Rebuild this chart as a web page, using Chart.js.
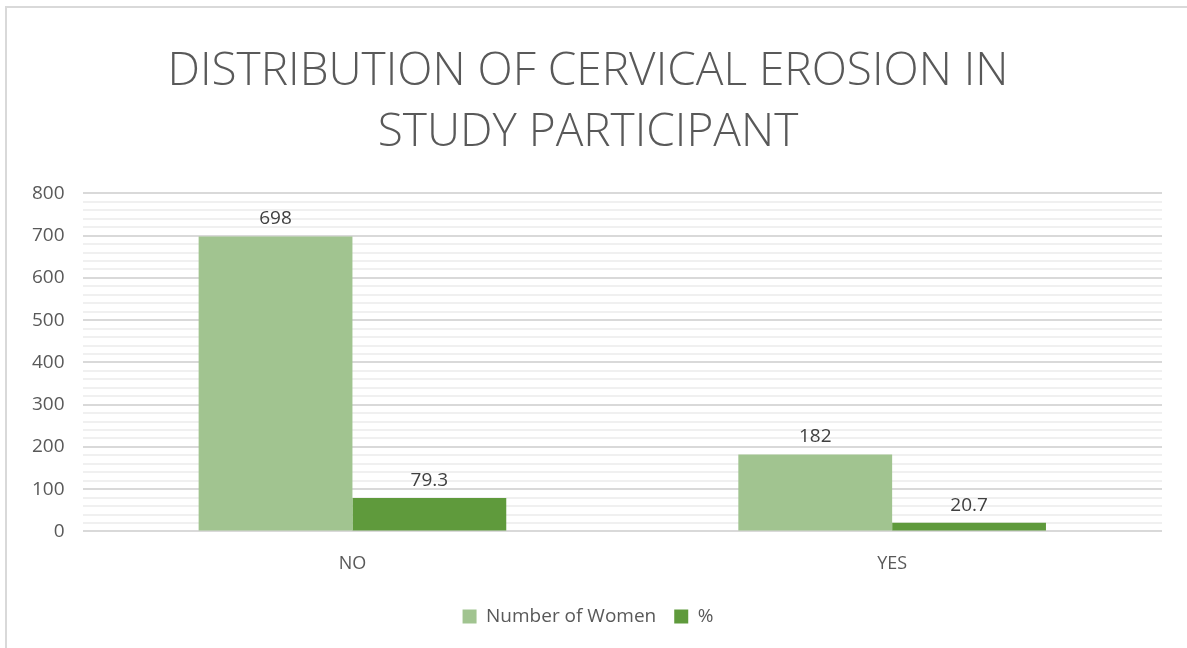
<!DOCTYPE html>
<html>
<head>
<meta charset="utf-8">
<script src="https://cdn.jsdelivr.net/npm/chart.js@4"></script>
<style>
  body { margin: 0; background: #fff; }
  #wrap { position: relative; width: 1187px; height: 648px; }
  #frame { position: absolute; left: 5px; top: 6px; right: -10px; bottom: -10px; border-left: 2px solid #d9d9d9; border-top: 2px solid #d9d9d9; pointer-events: none; }
</style>
</head>
<body>
<div id="wrap">
  <canvas id="myChart" width="1187" height="648"></canvas>
  <div id="frame"></div>
</div>
<script>
var categories = ['NO', 'YES'];
var womenCount = [698, 182];
var womenPercent = [79.3, 20.7];
var seriesNames = ['Number of Women', '%'];
var titleLines = ['DISTRIBUTION OF CERVICAL EROSION IN', 'STUDY PARTICIPANT'];

var ctx = document.getElementById('myChart');

// simple value labels above each bar
var barLabels = {
  id: 'barLabels',
  afterDatasetsDraw: function (chart) {
    var c = chart.ctx;
    c.save();
    c.font = '19px "Open Sans", sans-serif';
    c.fillStyle = '#404040';
    c.textAlign = 'center';
    c.textBaseline = 'bottom';
    chart.data.datasets.forEach(function (ds, i) {
      chart.getDatasetMeta(i).data.forEach(function (bar, j) {
        c.fillText(ds.data[j], bar.x, bar.y - 8);
      });
    });
    c.restore();
  }
};

var myChart = new Chart(ctx, {
  type: 'bar',
  data: {
    labels: categories,
    datasets: [{
      label: seriesNames[0],
      data: womenCount,
      backgroundColor: '#a1c490',
      categoryPercentage: 0.57,
      barPercentage: 1
    }, {
      label: seriesNames[1],
      data: womenPercent,
      backgroundColor: '#5f9a3c',
      categoryPercentage: 0.57,
      barPercentage: 1
    }]
  },
  options: {
    responsive: false,
    animation: false,
    layout: { padding: { left: 14, right: 25, top: 42, bottom: 12 } },
    plugins: {
      title: {
        display: true,
        text: titleLines,
        color: '#595959',
        font: { family: '"Open Sans", sans-serif', size: 46, weight: '300', lineHeight: 1.32 },
        padding: { top: 0, bottom: 30 }
      },
      legend: {
        position: 'bottom',
        labels: {
          color: '#595959',
          font: { family: '"Open Sans", sans-serif', size: 19 },
          boxWidth: 14,
          boxHeight: 14,
          padding: 18
        }
      },
      tooltip: { enabled: false }
    },
    scales: {
      x: {
        grid: { display: false },
        border: { display: false },
        ticks: { color: '#595959', font: { family: '"Open Sans", sans-serif', size: 18 }, padding: 14 }
      },
      y: {
        min: 0,
        max: 800,
        border: { display: false },
        grid: {
          drawTicks: false,
          lineWidth: 2,
          color: function (c) { return c.tick && c.tick.value % 100 === 0 ? '#d9d9d9' : '#f0f0f0'; }
        },
        ticks: {
          stepSize: 20,
          autoSkip: false,
          padding: 18,
          color: '#595959',
          font: { family: '"Open Sans", sans-serif', size: 19 },
          callback: function (v) { return v % 100 === 0 ? v : ''; }
        }
      }
    }
  },
  plugins: [barLabels]
});
</script>
</body>
</html>
